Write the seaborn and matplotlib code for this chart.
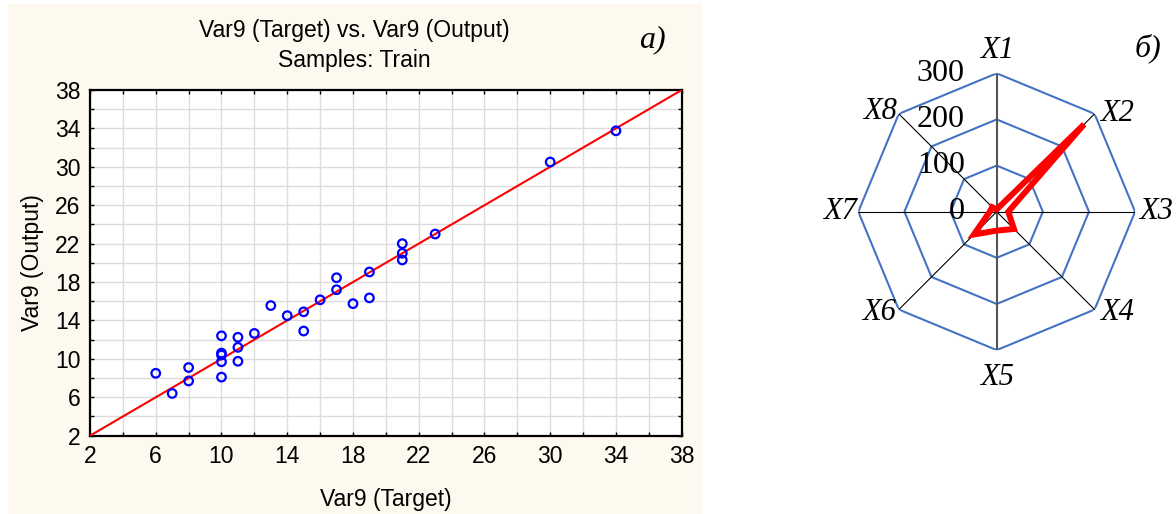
import numpy as np
import pandas as pd
import matplotlib
matplotlib.use("Agg")
import matplotlib.pyplot as plt
from matplotlib.patches import Rectangle
import seaborn as sns

# ---------------- data ----------------
target = [6, 7, 8, 8, 10, 10, 10, 10, 10, 11, 11, 11, 12, 13, 14, 15, 15,
          16, 17, 17, 18, 19, 19, 21, 21, 21, 23, 30, 34]
output = [8.5, 6.4, 9.1, 7.7, 12.4, 10.6, 10.4, 9.7, 8.1, 12.25, 11.2, 9.75,
          12.65, 15.55, 14.5, 14.9, 12.9, 16.15, 18.45, 17.2, 15.75, 19.05,
          16.35, 22.0, 21.0, 20.3, 23.0, 30.5, 33.75]
fit_line = [2, 38]
axis_ticks = [2, 6, 10, 14, 18, 22, 26, 30, 34, 38]

radar_labels = ["X1", "X2", "X3", "X4", "X5", "X6", "X7", "X8"]
radar_values = [5, 268, 25, 53, 41, 70, 15, 14]
radar_rings = [100, 200, 300]
radar_ring_labels = ["0", "100", "200", "300"]

# ---------------- figure ----------------
sns.set_theme(style="white")
plt.rcParams['font.family'] = ['Liberation Sans', 'DejaVu Sans']

W, H = 1176, 514
fig = plt.figure(figsize=(W / 100, H / 100), dpi=100)
fig.patch.set_facecolor("white")
fig.patches.append(Rectangle((8 / W, 0), (701.7 - 8) / W, (514 - 4) / H,
                             transform=fig.transFigure, facecolor="#FDF9EE",
                             edgecolor="none", zorder=-10))

# ---------------- scatter panel ----------------
ax = fig.add_axes([90 / W, (H - 435.7) / H, (681.7 - 90) / W, (435.7 - 90) / H])
ax.set_facecolor("white")
df = pd.DataFrame({"Target": target, "Output": output})
sns.lineplot(x=fit_line, y=fit_line, ax=ax, color="red", lw=1.5, zorder=3)
sns.scatterplot(data=df, x="Target", y="Output", ax=ax, marker="o",
                facecolor="none", edgecolor="blue", s=38, linewidth=1.6,
                zorder=4)
ax.set_xlim(2, 38)
ax.set_ylim(2, 38)
ax.set_xticks(axis_ticks)
ax.set_yticks(axis_ticks)
ax.set_xticks(np.arange(2, 39, 2), minor=True)
ax.set_yticks(np.arange(2, 39, 2), minor=True)
ax.set_xticklabels([str(t) for t in axis_ticks])
ax.set_yticklabels([str(t) for t in axis_ticks])
ax.tick_params(which="both", direction="in", top=True, right=True,
               bottom=True, left=True, length=3, width=1, color="black")
ax.tick_params(which="major", labelsize=16.5, pad=7, labelcolor="black")
ax.grid(which="both", color="#DCDCDC", lw=1)
ax.set_axisbelow(True)
for sp in ax.spines.values():
    sp.set_visible(True)
    sp.set_color("black")
    sp.set_linewidth(1.6)
ax.set_xlabel("Var9 (Target)", fontsize=16.5, labelpad=14, color="black")
ax.set_ylabel("Var9 (Output)", fontsize=16.5, labelpad=8, color="black")

fig.text(354.5 / W, 1 - 30 / H, "Var9 (Target) vs. Var9 (Output)",
         ha="center", va="center", fontsize=16.5, color="black")
fig.text(354.5 / W, 1 - 60 / H, "Samples: Train",
         ha="center", va="center", fontsize=16.5, color="black")
fig.text(652 / W, 1 - 40 / H, "а)", ha="center", va="center", fontsize=23,
         family=["Liberation Serif"], style="italic", color="black")

# ---------------- radar panel ----------------
cx, cy, R = 996.7, 211.7, 138.4
pax = fig.add_axes([(cx - R) / W, (H - cy - R) / H, 2 * R / W, 2 * R / H],
                   projection="polar")
pax.set_theta_zero_location("N")
pax.set_theta_direction(-1)
pax.set_ylim(0, 300)
pax.grid(False)
pax.spines["polar"].set_visible(False)
pax.set_xticks([])
pax.set_yticks([])
pax.patch.set_alpha(0)

angles = np.deg2rad(np.arange(len(radar_labels)) * 45.0)
closed = np.append(angles, angles[0])
for r in radar_rings:
    pax.plot(closed, [r] * len(closed), color="#4472C4", lw=1.5, zorder=2)
for i, a in enumerate(angles):
    vertical = i in (0, 4)
    pax.plot([a, a], [0, 300], color="#555555" if vertical else "black",
             lw=1.5 if vertical else 0.8, zorder=2)

vals = np.append(radar_values, radar_values[0])
pax.plot(closed, vals, color="red", lw=4.3, zorder=5, solid_joinstyle="miter",
         solid_capstyle="round")

serif = ["Liberation Serif", "DejaVu Serif"]
for lab, r in zip(radar_ring_labels, [0] + radar_rings):
    pax.annotate(lab, xy=(0, r), xytext=(-32, 0), textcoords="offset pixels",
                 ha="right", va="center", fontsize=23, family=serif,
                 color="black", annotation_clip=False)

label_offsets = {
    "X1": ((0, 23), "center"),
    "X2": ((5, 0), "left"),
    "X3": ((4, 0), "left"),
    "X4": ((5, -3), "left"),
    "X5": ((0, -27), "center"),
    "X6": ((-3, -3), "right"),
    "X7": ((-1, 0), "right"),
    "X8": ((-2, 2), "right"),
}
for lab, a in zip(radar_labels, angles):
    off, ha = label_offsets[lab]
    pax.annotate(lab, xy=(a, 300), xytext=off, textcoords="offset pixels",
                 ha=ha, va="center", fontsize=22, family=serif,
                 style="italic", color="black", annotation_clip=False)

fig.text(1148 / W, 1 - 48 / H, "б)", ha="center", va="center", fontsize=23,
         family=serif, style="italic", color="black")

fig.savefig("out.png", dpi=100)
